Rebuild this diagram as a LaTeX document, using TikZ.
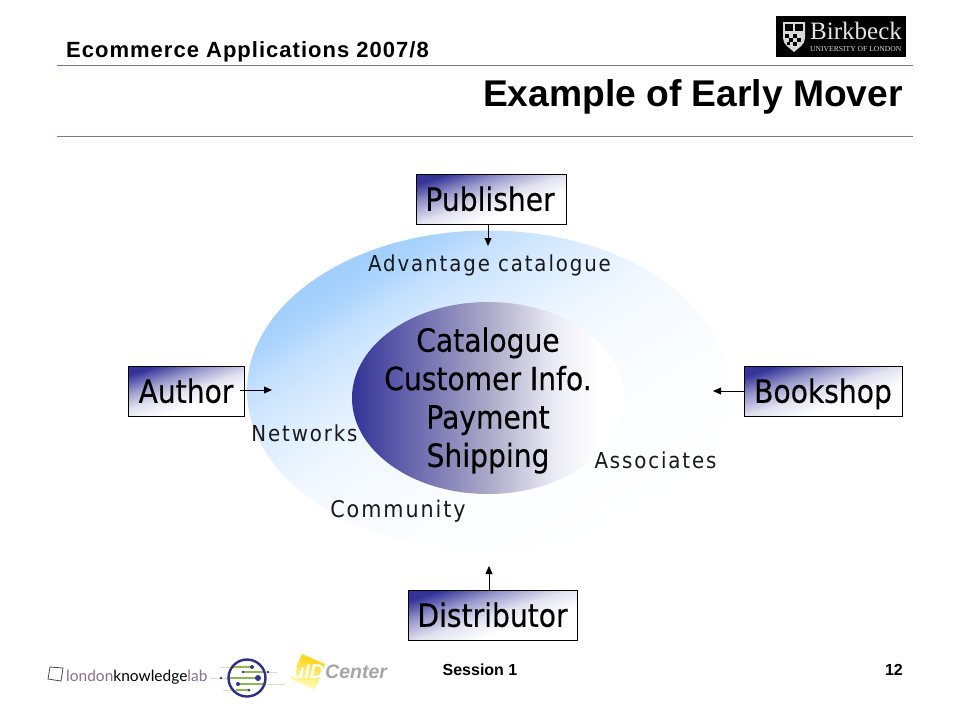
\documentclass[tikz,border=0pt]{standalone}
\usepackage{fontspec}
\setmainfont{Liberation Sans}
\newfontfamily\hdrf[LetterSpace=4.6]{Liberation Sans}
\newfontfamily\tah[FakeStretch=0.88,FakeBold=0.35]{DejaVu Sans}
\newfontfamily\tahsp[FakeStretch=0.9,LetterSpace=8.5]{DejaVu Sans}
\newfontfamily\serifb{Liberation Serif}
\newfontfamily\lat{Lato}
\usetikzlibrary{arrows.meta}
\definecolor{rulec}{HTML}{8C6F8C}
\definecolor{navyb}{HTML}{333399}
\definecolor{midg}{HTML}{ACA9C8}
\definecolor{skyb}{HTML}{A2CFFD}
\definecolor{leafg}{HTML}{8DB84A}
\pgfdeclareverticalshading{outershade}{100bp}{color(0bp)=(white); color(25bp)=(white); color(37bp)=(skyb!3!white); color(50bp)=(skyb!12!white); color(53bp)=(skyb!17!white); color(62bp)=(skyb!45!white); color(67bp)=(skyb!66!white); color(70bp)=(skyb!88!white); color(73bp)=(skyb); color(100bp)=(skyb)}
\pgfdeclarehorizontalshading{innershade}{100bp}{color(0bp)=(navyb); color(25bp)=(navyb); color(50bp)=(midg); color(62bp)=(navyb!10!white); color(70bp)=(white); color(100bp)=(white)}
\pgfdeclareverticalshading{boxshade}{100bp}{color(0bp)=(white); color(38bp)=(white); color(50bp)=(navyb!14!white); color(62.5bp)=(navyb!50!white); color(75bp)=(navyb); color(100bp)=(navyb)}
\tikzset{
  actor/.style={draw=black,line width=0.9pt,shading=boxshade,shading angle=18,minimum height=50pt,inner sep=0pt,text height=25.5pt,text depth=2pt,font=\tah\fontsize{32}{36}\selectfont,text=black},
  lbl/.style={inner sep=0pt,font=\tahsp\fontsize{22}{26}\selectfont,text=black!90},
  flow/.style={draw=black,line width=0.8pt,-{Triangle[length=8pt,width=7pt]}},
  rulel/.style={draw=rulec,line width=0.8pt},
}
\begin{document}
\begin{tikzpicture}[x=1pt,y=-1pt]
\useasboundingbox[fill=white] (0,0) rectangle (960,720);
% header
\node[anchor=base west,inner sep=0pt,font=\hdrf\bfseries\fontsize{22}{24}\selectfont] (hdr) at (66,57) {Ecommerce Applications 2007/8};
\node[anchor=base east,inner sep=0pt,font=\bfseries\fontsize{37.2}{42}\selectfont] (ttl) at (903,106) {Example of Early Mover};
\coordinate (r1a) at (57,65); \coordinate (r1b) at (913,65);
\coordinate (r2a) at (57,136); \coordinate (r2b) at (913,136);
\draw[rulel] (r1a) -- (r1b);
\draw[rulel] (r2a) -- (r2b);
% Birkbeck logo
\fill[black] (776,16) rectangle (906,57);
\fill[white!85!black] (783,22) -- (805,22) -- (805,38) .. controls (805,45) and (798,48) .. (794,52) .. controls (790,48) and (783,45) .. (783,38) -- cycle;
\fill[black] (785,24) rectangle (793,31); \fill[black] (795,24) rectangle (803,31);
\fill[black] (785,34) rectangle (789,38); \fill[black] (793,34) rectangle (797,38);
\fill[black] (789,38) rectangle (793,42); \fill[black] (797,38) rectangle (801,42);
\fill[black] (787,42) rectangle (790,45); \fill[black] (793,42) rectangle (797,46);
\node[anchor=base west,inner sep=0pt,text=white!90!black,font=\serifb\fontsize{25}{28}\selectfont] (bk) at (810,39.5) {Birkbeck};
\node[anchor=base west,inner sep=0pt,text=white!85!black,font=\serifb\fontsize{7.6}{9}\selectfont] (bku) at (810,51) {UNIVERSITY OF LONDON};
% ellipses
\path[shading=outershade,shading angle=32] (488,390.5) ellipse [x radius=241,y radius=160];
\path[shading=innershade] (488,398) ellipse [x radius=136,y radius=96];
\node[align=center,inner sep=0pt,font=\tah\fontsize{32}{38.4}\selectfont] (core) at (488,400.5) {Catalogue\\Customer Info.\\Payment\\Shipping};
% actors
\node[actor,minimum width=150pt] (pub) at (491,199) {\hspace*{-2pt}Publisher};
\node[actor,minimum width=116pt] (aut) at (186,391) {Author};
\node[actor,minimum width=158pt] (bks) at (823,391) {Bookshop};
\node[actor,minimum width=169pt] (dis) at (492.5,615) {Distributor};
% labels
\node[lbl] (adv) at (489.5,265.5) {Advantage catalogue};
\node[lbl] (net) at (304.5,433) {Networks};
\node[lbl] (ass) at (655.5,460) {Associates};
\node[lbl,font=\tahsp\fontsize{23}{26}\selectfont] (com) at (398,511) {Community};
% arrows
\coordinate (pe) at (488,246);
\coordinate (ae) at (272,390);
\coordinate (be) at (713,391);
\coordinate (de) at (489,566);
\draw[flow] (pub.south -| pe) -- (pe);
\draw[flow] ([xshift=-4pt]aut.east |- ae) -- (ae);
\draw[flow] (bks.west |- be) -- (be);
\draw[flow] (dis.north -| de) -- (de);
% footer
\node[inner sep=0pt,font=\bfseries\fontsize{16}{18}\selectfont] (ses) at (480,670) {Session 1};
\node[anchor=east,inner sep=0pt,font=\bfseries\fontsize{16}{18}\selectfont] (pg) at (903,670) {12};
% london knowledge lab
\draw[black!70,line width=0.8pt] (50,667) -- (63,668) -- (61,681) -- (48,679) -- cycle;
\node[anchor=base west,inner sep=0pt,font=\lat\fontsize{15.5}{18}\selectfont] (lkl) at (66,681) {\textcolor{rulec}{london}\textcolor{black}{knowledge}\textcolor{rulec}{lab}};
% circle logo
\draw[leafg!40!white,line width=0.8pt] (220,667) -- (252,667) (243,672) -- (277,672) (210,678) -- (258,678) (238,684) -- (285,684) (223,690) -- (249,690);
\draw[leafg,line width=1.1pt] (232,667) -- (252,667) (243,672) -- (263,672) (230,678) -- (258,678) (238,684) -- (264,684) (236,690) -- (249,690);
\draw[navyb!90!black,line width=2.4pt] (247,678) circle (18.5);
\fill[navyb] (252,667) circle (2) (243,672) circle (1.3) (258,678) circle (3) (238,684) circle (2) (249,690) circle (1.5) (268,672) circle (1.3) (221,678) circle (1.3);
% uID centre
\path[top color=yellow!65!orange,bottom color=yellow!20!white,shading angle=-15] (302,654) -- (325,664) -- (315,690) -- (291,679) -- cycle;
\node[anchor=base west,inner sep=0pt,text=white,font=\bfseries\itshape\fontsize{20}{22}\selectfont] (uid) at (292,678) {uID};
\node[anchor=base west,inner sep=0pt,text=black!35,font=\bfseries\itshape\fontsize{19.5}{22}\selectfont] (ctr) at (325,678) {Center};
\end{tikzpicture}
\end{document}
